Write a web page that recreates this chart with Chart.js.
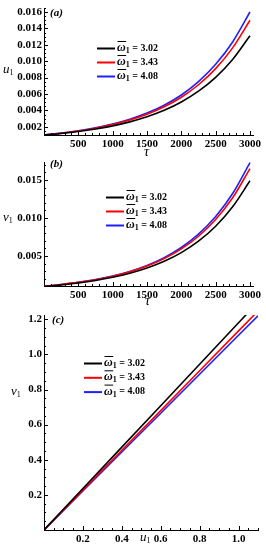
<!DOCTYPE html>
<html>
<head>
<meta charset="utf-8">
<script src="https://cdn.jsdelivr.net/npm/chart.js@4"></script>
<style>
  body { margin: 0; background: #fff; }
  .wrap { position: relative; width: 266px; height: 550px; }
  .box { position: absolute; left: 0; width: 266px; }
</style>
</head>
<body>
<div class="wrap">
<div class="box" style="top:0;height:160px"><canvas id="chartA"></canvas></div>
<div class="box" style="top:155px;height:155px"><canvas id="chartB"></canvas></div>
<div class="box" style="top:310px;height:240px"><canvas id="chartC"></canvas></div>
</div>
<script>
// values
var TAU = [0, 250, 500, 750, 1000, 1250, 1500, 1750, 2000, 2250, 2500, 2750, 3000];

var U1_W302 = [0.00100, 0.00118, 0.00142, 0.00173, 0.00211, 0.00260, 0.00322, 0.00401, 0.00503, 0.00634, 0.00803, 0.01024, 0.01310];
var U1_W343 = [0.00100, 0.00121, 0.00148, 0.00183, 0.00227, 0.00282, 0.00353, 0.00444, 0.00561, 0.00713, 0.00910, 0.01166, 0.01500];
var U1_W408 = [0.00100, 0.00123, 0.00152, 0.00188, 0.00233, 0.00292, 0.00367, 0.00463, 0.00588, 0.00751, 0.00962, 0.01238, 0.01600];

var V1_W302 = [0.00100, 0.00118, 0.00144, 0.00177, 0.00219, 0.00272, 0.00341, 0.00430, 0.00545, 0.00695, 0.00892, 0.01151, 0.01490];
var V1_W343 = [0.00100, 0.00125, 0.00153, 0.00188, 0.00233, 0.00292, 0.00367, 0.00465, 0.00593, 0.00760, 0.00980, 0.01269, 0.01650];
var V1_W408 = [0.00100, 0.00125, 0.00154, 0.00190, 0.00237, 0.00297, 0.00376, 0.00478, 0.00612, 0.00788, 0.01020, 0.01326, 0.01730];

var U1_C = [0, 0.2, 0.4, 0.6, 0.8, 1.0, 1.1];
var V1C_W302 = [0, 0.236, 0.472, 0.708, 0.944, 1.180, 1.298];
var V1C_W343 = [0, 0.227, 0.454, 0.680, 0.907, 1.134, 1.247];
var V1C_W408 = [0, 0.222, 0.444, 0.665, 0.887, 1.109, 1.220];

var OMEGA_LABELS = ["3.02", "3.43", "4.08"];
var COLORS = ["#000000", "#ff0000", "#1f1fff"];

var A_X_TICKS = [500, 1000, 1500, 2000, 2500, 3000];
var A_Y_TICKS = [0.002, 0.004, 0.006, 0.008, 0.010, 0.012, 0.014, 0.016];
var B_Y_TICKS = [0.005, 0.010, 0.015];
var C_X_TICKS = [0.2, 0.4, 0.6, 0.8, 1.0];
var C_Y_TICKS = [0.2, 0.4, 0.6, 0.8, 1.0, 1.2];

var SERIF = '"Liberation Serif", "DejaVu Serif", serif';

function pts(xs, ys) {
    return xs.map(function(x, i) { return { x: x, y: ys[i] }; });
}

function series(xs, ys, i, smooth) {
    return {
        data: pts(xs, ys),
        borderColor: COLORS[i],
        borderWidth: 1.6,
        pointRadius: 0,
        fill: false,
        tension: smooth ? 0.4 : 0,
        cubicInterpolationMode: smooth ? 'monotone' : 'default'
    };
}

function steps(from, to, step) {
    var out = [];
    for (var v = from; v <= to + step / 1000; v += step) out.push(v);
    return out;
}

// draws a row of text pieces (base, subscript, overline)
function drawPieces(ctx, x, y, pieces) {
    pieces.forEach(function(p) {
        ctx.font = p.font;
        ctx.fillText(p.t, x, y + (p.dy || 0));
        var w = ctx.measureText(p.t).width;
        if (p.over) {
            ctx.lineWidth = 1;
            ctx.beginPath();
            ctx.moveTo(x + 0.5, y - 6.5);
            ctx.lineTo(x + w + 0.5, y - 6.5);
            ctx.stroke();
        }
        x += w;
    });
    return x;
}

var annot = {
    id: 'annot',
    afterDraw: function(chart) {
        var o = chart.options.plugins.annot;
        var ctx = chart.ctx, a = chart.chartArea;
        var xs = chart.scales.x, ys = chart.scales.y;
        ctx.save();
        ctx.strokeStyle = '#000';
        ctx.fillStyle = '#000';
        ctx.lineWidth = 1;

        // inward ticks, major and minor
        function xt(vals, len) {
            vals.forEach(function(v) {
                var px = Math.round(xs.getPixelForValue(v)) + 0.5;
                if (px < a.left || px > a.right + 1) return;
                ctx.beginPath(); ctx.moveTo(px, a.bottom); ctx.lineTo(px, a.bottom - len); ctx.stroke();
            });
        }
        function yt(vals, len) {
            vals.forEach(function(v) {
                var py = Math.round(ys.getPixelForValue(v)) + 0.5;
                if (py < a.top - 1 || py > a.bottom) return;
                ctx.beginPath(); ctx.moveTo(a.left, py); ctx.lineTo(a.left + len, py); ctx.stroke();
            });
        }
        xt(o.xMajor, 4); xt(o.xMinor, 2);
        yt(o.yMajor, 4); yt(o.yMinor, 2);

        ctx.textBaseline = 'middle';
        ctx.textAlign = 'left';

        // legend inside the plot
        OMEGA_LABELS.forEach(function(lab, i) {
            var y = o.legend.y + i * o.legend.dy;
            ctx.strokeStyle = COLORS[i];
            ctx.lineWidth = 2;
            ctx.beginPath(); ctx.moveTo(o.legend.x, y + 0.5); ctx.lineTo(o.legend.x + 18, y + 0.5); ctx.stroke();
            ctx.strokeStyle = '#000';
            drawPieces(ctx, o.legend.x + 20, y, [
                { t: 'ω', font: 'italic bold 12px ' + SERIF, over: true },
                { t: '1', font: 'bold 8px ' + SERIF, dy: 3 },
                { t: ' = ' + lab, font: 'bold 10px ' + SERIF }
            ]);
        });

        // panel label
        ctx.font = 'italic bold 11px ' + SERIF;
        ctx.fillText(o.panel.t, o.panel.x, o.panel.y);

        // axis titles
        drawPieces(ctx, o.yTitle.x, o.yTitle.y, [
            { t: o.yTitle.t, font: 'italic 13px ' + SERIF },
            { t: '1', font: '8px ' + SERIF, dy: 3 }
        ]);
        if (o.xTitle.sub) {
            drawPieces(ctx, o.xTitle.x, o.xTitle.y, [
                { t: o.xTitle.t, font: 'italic 13px ' + SERIF },
                { t: '1', font: '8px ' + SERIF, dy: 3 }
            ]);
        } else {
            ctx.font = 'italic 14px ' + SERIF;
            ctx.fillText(o.xTitle.t, o.xTitle.x, o.xTitle.y);
        }
        ctx.restore();
    }
};

function makeChart(id, c) {
    var tickFont = { family: SERIF, weight: 'bold', size: 11 };
    return new Chart(document.getElementById(id), {
        type: 'line',
        data: { datasets: c.datasets },
        plugins: [annot],
        options: {
            responsive: true,
            maintainAspectRatio: false,
            animation: false,
            events: [],
            layout: { padding: { left: 0, right: c.right, top: c.top, bottom: 0 } },
            plugins: {
                legend: { display: false },
                tooltip: { enabled: false },
                annot: c.annot
            },
            scales: {
                x: {
                    type: 'linear',
                    min: c.xMin, max: c.xMax,
                    afterBuildTicks: function(s) { s.ticks = c.xTicks.map(function(v) { return { value: v }; }); },
                    afterFit: function(s) { s.height = c.xHeight; s.paddingLeft = 0; s.paddingRight = 0; },
                    grid: { display: true, drawOnChartArea: false, drawTicks: false },
                    border: { display: true, color: '#000', width: 1 },
                    ticks: {
                        color: '#000', font: tickFont, padding: 3, maxRotation: 0, autoSkip: false,
                        callback: c.xFmt
                    }
                },
                y: {
                    type: 'linear',
                    min: c.yMin, max: c.yMax,
                    afterBuildTicks: function(s) { s.ticks = c.yTicks.map(function(v) { return { value: v }; }); },
                    afterFit: function(s) { s.width = 44; s.paddingTop = 0; s.paddingBottom = 0; },
                    grid: { display: true, drawOnChartArea: false, drawTicks: false },
                    border: { display: true, color: '#000', width: 1 },
                    ticks: {
                        color: '#000', font: tickFont, padding: 2, autoSkip: false,
                        callback: c.yFmt
                    }
                }
            }
        }
    });
}

function fmtInt(v) { return String(Math.round(v)); }
function fmt3(v) { return v.toFixed(3); }
function fmt1(v) { return v.toFixed(1); }

// (a) u1 vs tau  (canvas 160 high, plot bottom at 135)
makeChart('chartA', {
    datasets: [series(TAU, U1_W302, 0, true), series(TAU, U1_W343, 1, true), series(TAU, U1_W408, 2, true)],
    xMin: 0, xMax: 3044, yMin: 0.001, yMax: 0.01649,
    xTicks: A_X_TICKS, yTicks: A_Y_TICKS, xFmt: fmtInt, yFmt: fmt3,
    top: 8, right: 13, xHeight: 25,
    annot: {
        xMajor: A_X_TICKS, xMinor: steps(100, 3000, 100),
        yMajor: A_Y_TICKS, yMinor: steps(0.0015, 0.0165, 0.0005),
        legend: { x: 97, y: 48, dy: 14 },
        panel: { t: '(a)', x: 50, y: 13 },
        yTitle: { t: 'u', x: 3, y: 70 },
        xTitle: { t: 'τ', x: 144, y: 152 }
    }
});

// (b) v1 vs tau
makeChart('chartB', {
    datasets: [series(TAU, V1_W302, 0, true), series(TAU, V1_W343, 1, true), series(TAU, V1_W408, 2, true)],
    xMin: 0, xMax: 3044, yMin: 0.00105, yMax: 0.01737,
    xTicks: A_X_TICKS, yTicks: B_Y_TICKS, xFmt: fmtInt, yFmt: fmt3,
    top: 7, right: 13, xHeight: 24,
    annot: {
        xMajor: A_X_TICKS, xMinor: steps(100, 3000, 100),
        yMajor: B_Y_TICKS, yMinor: steps(0.002, 0.017, 0.001),
        legend: { x: 106, y: 42, dy: 14 },
        panel: { t: '(b)', x: 50, y: 9 },
        yTitle: { t: 'v', x: 3, y: 63 },
        xTitle: { t: 'τ', x: 145, y: 146 }
    }
});

// (c) v1 vs u1
makeChart('chartC', {
    datasets: [series(U1_C, V1C_W302, 0, false), series(U1_C, V1C_W343, 1, false), series(U1_C, V1C_W408, 2, false)],
    xMin: 0, xMax: 1.1, yMin: 0, yMax: 1.2245,
    xTicks: C_X_TICKS, yTicks: C_Y_TICKS, xFmt: fmt1, yFmt: fmt1,
    top: 5, right: 8, xHeight: 20,
    annot: {
        xMajor: C_X_TICKS, xMinor: steps(0.05, 1.1, 0.05),
        yMajor: C_Y_TICKS, yMinor: steps(0.05, 1.2, 0.05),
        legend: { x: 84, y: 53, dy: 14.3 },
        panel: { t: '(c)', x: 52, y: 10 },
        yTitle: { t: 'v', x: 11, y: 82 },
        xTitle: { t: 'u', x: 140, y: 228, sub: true }
    }
});
</script>
</body>
</html>
